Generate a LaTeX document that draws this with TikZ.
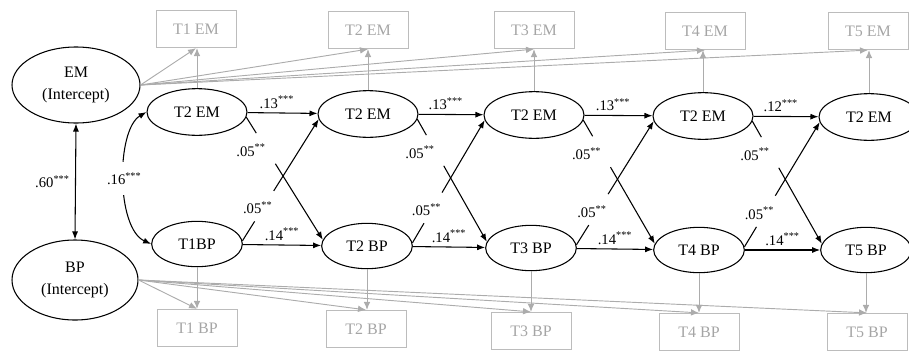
\documentclass[tikz,border=0pt]{standalone}
\usepackage{fontspec}
\setmainfont{Liberation Serif}
\usetikzlibrary{arrows.meta,shapes.geometric,calc}
\definecolor{gline}{RGB}{172,172,172}
\definecolor{gtext}{RGB}{165,165,165}
\definecolor{gbox}{RGB}{188,188,188}
\begin{document}
\begin{tikzpicture}[x=0.75pt,y=-0.75pt,
  lat/.style={draw,ellipse,line width=0.8pt,minimum width=75pt,minimum height=35pt,inner sep=0pt,font=\fontsize{12}{14}\selectfont},
  latb/.style={lat,minimum width=68pt,minimum height=34pt},
  icpt/.style={draw,ellipse,line width=0.8pt,align=center,inner sep=0pt,font=\fontsize{12}{16.5}\selectfont},
  obs/.style={draw=gbox,line width=0.7pt,text=gtext,minimum width=60pt,minimum height=28pt,inner sep=0pt,font=\fontsize{12}{14}\selectfont},
  blk/.style={line width=0.8pt},
  arr/.style={line width=0.8pt,-{Latex[length=6pt,width=4.5pt]}},
  darr/.style={line width=0.8pt,{Latex[length=6pt,width=4.5pt]}-{Latex[length=6pt,width=4.5pt]}},
  garr/.style={draw=gline,line width=0.7pt,-{Latex[length=6pt,width=5pt]}},
  lab/.style={font=\fontsize{11}{13}\selectfont,inner sep=1pt},
]
\useasboundingbox (0,0) rectangle (909,350);

% intercepts
\node[icpt,minimum width=96pt,minimum height=57pt] (emi) at (76,85) {EM\\(Intercept)};
\node[icpt,minimum width=94.5pt,minimum height=60pt] (bpi) at (75,280) {BP\\(Intercept)};

% latent EM
\node[lat] (e1) at (197,112) {T2 EM};
\node[lat] (e2) at (368,114) {T2 EM};
\node[lat] (e3) at (534,115) {T2 EM};
\node[lat] (e4) at (703,116) {T2 EM};
\node[lat] (e5) at (869,117) {T2 EM};

% latent BP
\node[latb] (b1) at (197,244) {T1BP};
\node[latb] (b2) at (367,246) {T2 BP};
\node[latb] (b3) at (531,248) {T3 BP};
\node[latb] (b4) at (699,250) {T4 BP};
\node[latb] (b5) at (866,250) {T5 BP};

% observed boxes
\node[obs] (te1) at (196,29) {T1 EM};
\node[obs] (te2) at (368,30) {T2 EM};
\node[obs] (te3) at (534,30) {T3 EM};
\node[obs] (te4) at (705,31) {T4 EM};
\node[obs] (te5) at (868,31) {T5 EM};
\node[obs] (tb1) at (197,328) {T1 BP};
\node[obs] (tb2) at (366,329) {T2 BP};
\node[obs] (tb3) at (531,331) {T3 BP};
\node[obs] (tb4) at (699,332) {T4 BP};
\node[obs] (tb5) at (867,332) {T5 BP};

% gray loadings
\foreach \i in {1,...,5}{
  \draw[garr] (emi.east) -- (te\i.south);
  \draw[garr] (e\i.north) -- (e\i.north |- te\i.south);
  \draw[garr] (bpi.east) -- (tb\i.north);
  \draw[garr] (b\i.south) -- (b\i.south |- tb\i.north);
}

% intercept correlation
\draw[darr] (emi.south) -- (bpi.north) node[lab,pos=0.5,left=3pt] {.60\textsuperscript{***}};

% T1 correlation
\draw[darr] (e1.west) .. controls (116,130) and (116,228) .. (b1.west)
  node[lab,pos=0.5,fill=white,minimum height=25pt] {.16\textsuperscript{***}};

% autoregressive paths
\foreach \i/\j/\v in {1/2/.13,2/3/.13,3/4/.13,4/5/.12}
  \draw[arr] (e\i) -- (e\j) node[lab,pos=0.42,above=2pt] {\v\textsuperscript{***}};
\foreach \i/\j in {1/2,2/3,3/4,4/5}
  \draw[arr] (b\i) -- (b\j) node[lab,pos=0.5,above=2pt] {.14\textsuperscript{***}};

% cross-lagged paths
\foreach \i/\j in {1/2,2/3,3/4,4/5}{
  \path (e\i.-6) -- (b\j.172) coordinate[pos=0.13] (ea\i) coordinate[pos=0.38] (eb\i) coordinate[pos=0.27] (ec\i);
  \draw[blk] (e\i.-6) -- (ea\i);
  \draw[arr] (eb\i) -- (b\j.172);
  \node[lab] at ([xshift=-12pt]ec\i) {.05\textsuperscript{**}};
  \path (b\i.4) -- (e\j.186) coordinate[pos=0.16] (ba\i) coordinate[pos=0.41] (bb\i) coordinate[pos=0.27] (bc\i);
  \draw[blk] (b\i.4) -- (ba\i);
  \draw[arr] (bb\i) -- (e\j.186);
  \node[lab] at ([xshift=-4pt]bc\i) {.05\textsuperscript{**}};
}
\end{tikzpicture}
\end{document}
